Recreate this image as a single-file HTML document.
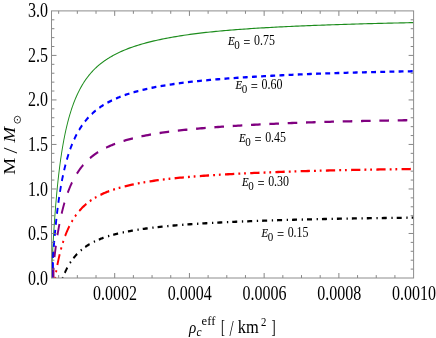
<!DOCTYPE html><html><head><meta charset="utf-8"><style>html,body{margin:0;padding:0;background:#fff;overflow:hidden}svg{display:block;will-change:transform}text{font-family:"Liberation Serif",serif;fill:#000}</style></head><body>
<svg width="436" height="338" viewBox="0 0 436 338">
<rect width="436" height="338" fill="#fff"/>
<defs><clipPath id="c"><rect x="51.5" y="10.9" width="362.1" height="267.1"/></clipPath></defs>
<g clip-path="url(#c)"><g transform="scale(1,1.21)" fill="none">
<path id="green" d="M51.23,232.231 L51.30,230.849 L51.40,228.943 L51.50,227.071 L51.60,225.230 L51.70,223.420 L51.80,221.640 L51.90,219.890 L52.00,218.168 L52.10,216.474 L52.20,214.808 L52.30,213.168 L52.40,211.555 L52.50,209.967 L52.60,208.403 L52.70,206.864 L52.80,205.349 L52.90,203.856 L53.00,202.387 L53.10,200.939 L53.20,199.513 L53.30,198.108 L53.40,196.724 L53.50,195.360 L53.60,194.016 L53.70,192.692 L53.80,191.386 L53.90,190.099 L54.00,188.830 L54.10,187.579 L54.20,186.345 L54.30,185.128 L54.40,183.928 L54.50,182.744 L54.60,181.577 L54.70,180.425 L54.80,179.288 L54.90,178.167 L55.00,177.060 L55.10,175.968 L55.20,174.890 L55.30,173.826 L55.40,172.775 L55.50,171.739 L55.60,170.715 L55.70,169.704 L55.80,168.706 L55.90,167.720 L56.00,166.747 L56.10,165.785 L56.20,164.835 L56.30,163.897 L56.40,162.970 L56.50,162.054 L56.60,161.150 L56.70,160.256 L56.80,159.372 L56.90,158.499 L57.00,157.636 L57.10,156.783 L57.20,155.940 L57.30,155.107 L57.40,154.283 L57.50,153.468 L57.60,152.663 L57.70,151.866 L57.80,151.079 L57.90,150.300 L58.00,149.530 L58.10,148.768 L58.20,148.015 L58.30,147.270 L58.40,146.533 L58.50,145.804 L58.60,145.082 L58.70,144.368 L58.80,143.662 L58.90,142.963 L59.00,142.272 L59.10,141.588 L59.20,140.911 L59.30,140.240 L59.40,139.577 L59.50,138.921 L59.60,138.271 L59.70,137.627 L59.80,136.990 L59.90,136.360 L60.00,135.736 L60.10,135.118 L60.20,134.506 L60.30,133.900 L60.40,133.300 L60.50,132.706 L60.60,132.117 L60.70,131.534 L60.80,130.957 L60.90,130.385 L61.00,129.819 L61.10,129.258 L61.20,128.702 L61.30,128.152 L61.40,127.607 L61.50,127.066 L61.60,126.531 L61.70,126.000 L61.80,125.475 L61.90,124.954 L62.00,124.438 L62.10,123.927 L62.20,123.420 L62.30,122.918 L62.40,122.420 L62.50,121.926 L62.60,121.437 L62.70,120.953 L62.80,120.472 L62.90,119.996 L63.00,119.524 L63.10,119.056 L63.20,118.591 L63.30,118.131 L63.40,117.675 L63.50,117.223 L63.60,116.774 L63.70,116.330 L63.80,115.889 L63.90,115.451 L64.00,115.018 L64.10,114.588 L64.20,114.161 L64.30,113.738 L64.40,113.319 L64.50,112.902 L64.60,112.490 L64.70,112.080 L64.80,111.674 L64.90,111.271 L65.00,110.872 L65.10,110.475 L65.20,110.082 L65.30,109.692 L65.40,109.304 L65.50,108.920 L65.60,108.539 L65.70,108.161 L65.80,107.786 L65.90,107.413 L66.00,107.044 L66.10,106.677 L66.20,106.313 L66.30,105.952 L66.40,105.594 L66.50,105.238 L66.60,104.885 L66.70,104.535 L66.80,104.187 L66.90,103.842 L67.00,103.500 L67.10,103.160 L67.20,102.822 L67.30,102.487 L67.40,102.154 L67.50,101.824 L67.60,101.496 L67.70,101.171 L67.80,100.848 L67.90,100.527 L68.00,100.208 L68.10,99.892 L68.20,99.578 L68.30,99.266 L68.40,98.957 L68.50,98.649 L68.60,98.344 L68.70,98.041 L68.80,97.740 L68.90,97.441 L69.00,97.144 L69.10,96.849 L69.20,96.557 L69.30,96.266 L69.40,95.977 L69.50,95.690 L69.60,95.405 L69.70,95.122 L69.80,94.841 L69.90,94.562 L70.00,94.284 L70.50,92.925 L71.00,91.609 L71.50,90.336 L72.00,89.102 L72.50,87.906 L73.00,86.746 L73.50,85.622 L74.00,84.530 L74.50,83.470 L75.00,82.440 L75.50,81.440 L76.00,80.468 L76.50,79.522 L77.00,78.602 L77.50,77.706 L78.00,76.834 L78.50,75.985 L79.00,75.158 L79.50,74.352 L80.00,73.566 L80.50,72.800 L81.00,72.053 L81.50,71.323 L82.00,70.612 L82.50,69.917 L83.00,69.238 L83.50,68.575 L84.00,67.928 L84.50,67.295 L85.00,66.677 L85.50,66.072 L86.00,65.481 L86.50,64.902 L87.00,64.336 L87.50,63.783 L88.00,63.241 L88.50,62.711 L89.00,62.191 L89.50,61.683 L90.00,61.185 L90.50,60.698 L91.00,60.220 L91.50,59.752 L92.00,59.293 L92.50,58.844 L93.00,58.404 L93.50,57.972 L94.00,57.549 L94.50,57.134 L95.00,56.727 L95.50,56.328 L96.00,55.937 L96.50,55.554 L97.00,55.177 L97.50,54.808 L98.00,54.445 L98.50,54.090 L99.00,53.741 L99.50,53.398 L100.00,53.061 L100.50,52.730 L101.00,52.405 L101.50,52.086 L102.00,51.772 L102.50,51.463 L103.00,51.160 L103.50,50.861 L104.00,50.567 L104.50,50.277 L105.00,49.992 L105.50,49.711 L106.00,49.434 L106.50,49.161 L107.00,48.892 L107.50,48.627 L108.00,48.366 L108.50,48.108 L109.00,47.853 L109.50,47.602 L110.00,47.354 L110.50,47.110 L111.00,46.868 L111.50,46.630 L112.00,46.395 L112.50,46.163 L113.00,45.933 L113.50,45.707 L114.00,45.483 L114.50,45.263 L115.00,45.045 L115.50,44.829 L116.00,44.617 L116.50,44.407 L117.00,44.199 L117.50,43.994 L118.00,43.792 L118.50,43.592 L119.00,43.395 L119.50,43.200 L120.00,43.007 L122.00,42.259 L124.00,41.546 L126.00,40.865 L128.00,40.215 L130.00,39.594 L132.00,38.999 L134.00,38.429 L136.00,37.883 L138.00,37.359 L140.00,36.855 L142.00,36.371 L144.00,35.906 L146.00,35.457 L148.00,35.024 L150.00,34.607 L152.00,34.203 L154.00,33.813 L156.00,33.436 L158.00,33.071 L160.00,32.717 L162.00,32.373 L164.00,32.040 L166.00,31.716 L168.00,31.401 L170.00,31.095 L172.00,30.797 L174.00,30.507 L176.00,30.225 L178.00,29.951 L180.00,29.684 L182.00,29.424 L184.00,29.171 L186.00,28.925 L188.00,28.686 L190.00,28.453 L192.00,28.227 L194.00,28.008 L196.00,27.794 L198.00,27.586 L200.00,27.384 L202.00,27.188 L204.00,26.997 L206.00,26.811 L208.00,26.631 L210.00,26.455 L212.00,26.284 L214.00,26.117 L216.00,25.954 L218.00,25.796 L220.00,25.641 L222.00,25.490 L224.00,25.343 L226.00,25.199 L228.00,25.059 L230.00,24.922 L232.00,24.787 L234.00,24.656 L236.00,24.528 L238.00,24.402 L240.00,24.279 L242.00,24.159 L244.00,24.041 L246.00,23.925 L248.00,23.812 L250.00,23.701 L252.00,23.592 L254.00,23.485 L256.00,23.380 L258.00,23.278 L260.00,23.177 L262.00,23.078 L264.00,22.980 L266.00,22.885 L268.00,22.791 L270.00,22.699 L272.00,22.609 L274.00,22.520 L276.00,22.433 L278.00,22.347 L280.00,22.262 L282.00,22.179 L284.00,22.098 L286.00,22.017 L288.00,21.939 L290.00,21.861 L292.00,21.784 L294.00,21.709 L296.00,21.635 L298.00,21.562 L300.00,21.491 L302.00,21.420 L304.00,21.351 L306.00,21.282 L308.00,21.215 L310.00,21.148 L312.00,21.083 L314.00,21.018 L316.00,20.955 L318.00,20.892 L320.00,20.831 L322.00,20.770 L324.00,20.710 L326.00,20.651 L328.00,20.593 L330.00,20.535 L332.00,20.479 L334.00,20.423 L336.00,20.368 L338.00,20.313 L340.00,20.260 L342.00,20.207 L344.00,20.155 L346.00,20.103 L348.00,20.052 L350.00,20.002 L352.00,19.952 L354.00,19.904 L356.00,19.855 L358.00,19.808 L360.00,19.761 L362.00,19.714 L364.00,19.668 L366.00,19.623 L368.00,19.578 L370.00,19.534 L372.00,19.491 L374.00,19.447 L376.00,19.405 L378.00,19.363 L380.00,19.321 L382.00,19.280 L384.00,19.239 L386.00,19.199 L388.00,19.160 L390.00,19.120 L392.00,19.082 L394.00,19.043 L396.00,19.005 L398.00,18.968 L400.00,18.931 L402.00,18.894 L404.00,18.858 L406.00,18.822 L408.00,18.787 L410.00,18.752 L412.00,18.717 L414.00,18.683" stroke="#1c8c1c" stroke-width="0.95"/>
<path id="blue" d="M52.75,232.231 L52.75,215.727 L52.80,215.123 L52.90,213.928 L53.00,212.750 L53.10,211.589 L53.20,210.445 L53.30,209.317 L53.40,208.205 L53.50,207.108 L53.60,206.026 L53.70,204.960 L53.80,203.908 L53.90,202.870 L54.00,201.846 L54.10,200.837 L54.20,199.840 L54.30,198.857 L54.40,197.886 L54.50,196.929 L54.60,195.983 L54.70,195.050 L54.80,194.129 L54.90,193.220 L55.00,192.322 L55.10,191.435 L55.20,190.560 L55.30,189.695 L55.40,188.841 L55.50,187.998 L55.60,187.165 L55.70,186.342 L55.80,185.529 L55.90,184.725 L56.00,183.932 L56.10,183.147 L56.20,182.372 L56.30,181.606 L56.40,180.849 L56.50,180.101 L56.60,179.361 L56.70,178.630 L56.80,177.907 L56.90,177.192 L57.00,176.485 L57.10,175.786 L57.20,175.095 L57.30,174.412 L57.40,173.736 L57.50,173.067 L57.60,172.406 L57.70,171.752 L57.80,171.105 L57.90,170.465 L58.00,169.832 L58.10,169.206 L58.20,168.586 L58.30,167.972 L58.40,167.365 L58.50,166.765 L58.60,166.170 L58.70,165.582 L58.80,165.000 L58.90,164.423 L59.00,163.853 L59.10,163.288 L59.20,162.729 L59.30,162.175 L59.40,161.627 L59.50,161.085 L59.60,160.547 L59.70,160.015 L59.80,159.489 L59.90,158.967 L60.00,158.450 L60.10,157.938 L60.20,157.432 L60.30,156.930 L60.40,156.432 L60.50,155.940 L60.60,155.452 L60.70,154.968 L60.80,154.490 L60.90,154.015 L61.00,153.545 L61.10,153.079 L61.20,152.618 L61.30,152.160 L61.40,151.707 L61.50,151.258 L61.60,150.813 L61.70,150.372 L61.80,149.935 L61.90,149.502 L62.00,149.072 L62.10,148.646 L62.20,148.224 L62.30,147.806 L62.40,147.391 L62.50,146.980 L62.60,146.573 L62.70,146.169 L62.80,145.768 L62.90,145.371 L63.00,144.977 L63.10,144.586 L63.20,144.199 L63.30,143.815 L63.40,143.434 L63.50,143.056 L63.60,142.681 L63.70,142.310 L63.80,141.941 L63.90,141.576 L64.00,141.213 L64.10,140.854 L64.20,140.497 L64.30,140.143 L64.40,139.792 L64.50,139.444 L64.60,139.098 L64.70,138.756 L64.80,138.416 L64.90,138.078 L65.00,137.743 L65.10,137.411 L65.20,137.082 L65.30,136.755 L65.40,136.430 L65.50,136.108 L65.60,135.788 L65.70,135.471 L65.80,135.156 L65.90,134.844 L66.00,134.534 L66.10,134.226 L66.20,133.921 L66.30,133.618 L66.40,133.317 L66.50,133.018 L66.60,132.721 L66.70,132.427 L66.80,132.135 L66.90,131.845 L67.00,131.557 L67.10,131.271 L67.20,130.987 L67.30,130.705 L67.40,130.426 L67.50,130.148 L67.60,129.872 L67.70,129.598 L67.80,129.326 L67.90,129.056 L68.00,128.788 L68.10,128.522 L68.20,128.257 L68.30,127.995 L68.40,127.734 L68.50,127.475 L68.60,127.218 L68.70,126.962 L68.80,126.709 L68.90,126.457 L69.00,126.206 L69.10,125.958 L69.20,125.711 L69.30,125.465 L69.40,125.222 L69.50,124.980 L69.60,124.739 L69.70,124.501 L69.80,124.263 L69.90,124.028 L70.00,123.793 L70.50,122.645 L71.00,121.534 L71.50,120.457 L72.00,119.413 L72.50,118.401 L73.00,117.419 L73.50,116.466 L74.00,115.540 L74.50,114.641 L75.00,113.768 L75.50,112.918 L76.00,112.093 L76.50,111.289 L77.00,110.507 L77.50,109.746 L78.00,109.004 L78.50,108.282 L79.00,107.578 L79.50,106.892 L80.00,106.223 L80.50,105.570 L81.00,104.933 L81.50,104.312 L82.00,103.705 L82.50,103.113 L83.00,102.534 L83.50,101.969 L84.00,101.416 L84.50,100.876 L85.00,100.348 L85.50,99.832 L86.00,99.327 L86.50,98.833 L87.00,98.350 L87.50,97.877 L88.00,97.413 L88.50,96.960 L89.00,96.516 L89.50,96.081 L90.00,95.655 L90.50,95.238 L91.00,94.829 L91.50,94.428 L92.00,94.035 L92.50,93.650 L93.00,93.272 L93.50,92.902 L94.00,92.539 L94.50,92.182 L95.00,91.833 L95.50,91.490 L96.00,91.153 L96.50,90.822 L97.00,90.498 L97.50,90.179 L98.00,89.867 L98.50,89.560 L99.00,89.258 L99.50,88.961 L100.00,88.670 L100.50,88.384 L101.00,88.103 L101.50,87.827 L102.00,87.555 L102.50,87.288 L103.00,87.025 L103.50,86.766 L104.00,86.512 L104.50,86.262 L105.00,86.016 L105.50,85.773 L106.00,85.535 L106.50,85.300 L107.00,85.069 L107.50,84.841 L108.00,84.616 L108.50,84.395 L109.00,84.177 L109.50,83.962 L110.00,83.751 L110.50,83.542 L111.00,83.336 L111.50,83.133 L112.00,82.933 L112.50,82.735 L113.00,82.540 L113.50,82.348 L114.00,82.158 L114.50,81.970 L115.00,81.785 L115.50,81.602 L116.00,81.422 L116.50,81.244 L117.00,81.068 L117.50,80.894 L118.00,80.722 L118.50,80.553 L119.00,80.385 L119.50,80.219 L120.00,80.056 L122.00,79.420 L124.00,78.812 L126.00,78.232 L128.00,77.677 L130.00,77.145 L132.00,76.636 L134.00,76.147 L136.00,75.679 L138.00,75.229 L140.00,74.797 L142.00,74.381 L144.00,73.982 L146.00,73.597 L148.00,73.227 L150.00,72.869 L152.00,72.525 L154.00,72.193 L156.00,71.872 L158.00,71.562 L160.00,71.262 L162.00,70.972 L164.00,70.692 L166.00,70.420 L168.00,70.157 L170.00,69.903 L172.00,69.655 L174.00,69.416 L176.00,69.183 L178.00,68.957 L180.00,68.737 L182.00,68.524 L184.00,68.317 L186.00,68.115 L188.00,67.918 L190.00,67.727 L192.00,67.541 L194.00,67.360 L196.00,67.183 L198.00,67.011 L200.00,66.843 L202.00,66.679 L204.00,66.519 L206.00,66.363 L208.00,66.210 L210.00,66.061 L212.00,65.915 L214.00,65.772 L216.00,65.633 L218.00,65.496 L220.00,65.363 L222.00,65.232 L224.00,65.104 L226.00,64.978 L228.00,64.855 L230.00,64.734 L232.00,64.616 L234.00,64.499 L236.00,64.385 L238.00,64.273 L240.00,64.163 L242.00,64.054 L244.00,63.948 L246.00,63.843 L248.00,63.740 L250.00,63.638 L252.00,63.538 L254.00,63.440 L256.00,63.342 L258.00,63.247 L260.00,63.152 L262.00,63.059 L264.00,62.967 L266.00,62.877 L268.00,62.787 L270.00,62.699 L272.00,62.612 L274.00,62.525 L276.00,62.440 L278.00,62.357 L280.00,62.274 L282.00,62.192 L284.00,62.111 L286.00,62.032 L288.00,61.953 L290.00,61.876 L292.00,61.800 L294.00,61.724 L296.00,61.650 L298.00,61.577 L300.00,61.505 L302.00,61.434 L304.00,61.365 L306.00,61.296 L308.00,61.228 L310.00,61.162 L312.00,61.097 L314.00,61.033 L316.00,60.970 L318.00,60.908 L320.00,60.847 L322.00,60.787 L324.00,60.728 L326.00,60.671 L328.00,60.614 L330.00,60.558 L332.00,60.504 L334.00,60.450 L336.00,60.397 L338.00,60.346 L340.00,60.295 L342.00,60.245 L344.00,60.195 L346.00,60.147 L348.00,60.100 L350.00,60.053 L352.00,60.007 L354.00,59.962 L356.00,59.917 L358.00,59.873 L360.00,59.830 L362.00,59.788 L364.00,59.746 L366.00,59.705 L368.00,59.664 L370.00,59.624 L372.00,59.585 L374.00,59.546 L376.00,59.508 L378.00,59.470 L380.00,59.433 L382.00,59.396 L384.00,59.360 L386.00,59.324 L388.00,59.289 L390.00,59.254 L392.00,59.219 L394.00,59.185 L396.00,59.152 L398.00,59.119 L400.00,59.086 L402.00,59.054 L404.00,59.022 L406.00,58.990 L408.00,58.959 L410.00,58.928 L412.00,58.898 L414.00,58.868" stroke="#0000ff" stroke-width="1.9" stroke-dasharray="4.89 4.281" stroke-dashoffset="8.39"/>
<path d="M52.75,216.53V231.40" stroke="#0000ff" stroke-width="1.7"/>
<path id="purple" d="M53.50,232.231 L53.50,219.859 L53.50,219.859 L53.60,219.067 L53.70,218.285 L53.80,217.512 L53.90,216.748 L54.00,215.993 L54.10,215.247 L54.20,214.510 L54.30,213.781 L54.40,213.061 L54.50,212.349 L54.60,211.645 L54.70,210.949 L54.80,210.260 L54.90,209.580 L55.00,208.907 L55.10,208.242 L55.20,207.583 L55.30,206.933 L55.40,206.289 L55.50,205.652 L55.60,205.022 L55.70,204.399 L55.80,203.783 L55.90,203.173 L56.00,202.569 L56.10,201.972 L56.20,201.381 L56.30,200.797 L56.40,200.218 L56.50,199.646 L56.60,199.079 L56.70,198.518 L56.80,197.963 L56.90,197.413 L57.00,196.869 L57.10,196.331 L57.20,195.797 L57.30,195.270 L57.40,194.747 L57.50,194.229 L57.60,193.717 L57.70,193.210 L57.80,192.707 L57.90,192.210 L58.00,191.717 L58.10,191.229 L58.20,190.745 L58.30,190.266 L58.40,189.792 L58.50,189.322 L58.60,188.857 L58.70,188.396 L58.80,187.939 L58.90,187.486 L59.00,187.038 L59.10,186.593 L59.20,186.153 L59.30,185.717 L59.40,185.285 L59.50,184.856 L59.60,184.432 L59.70,184.011 L59.80,183.594 L59.90,183.181 L60.00,182.771 L60.10,182.365 L60.20,181.962 L60.30,181.563 L60.40,181.168 L60.50,180.776 L60.60,180.387 L60.70,180.002 L60.80,179.619 L60.90,179.241 L61.00,178.865 L61.10,178.492 L61.20,178.123 L61.30,177.757 L61.40,177.394 L61.50,177.033 L61.60,176.676 L61.70,176.322 L61.80,175.971 L61.90,175.622 L62.00,175.277 L62.10,174.934 L62.20,174.594 L62.30,174.256 L62.40,173.922 L62.50,173.590 L62.60,173.261 L62.70,172.934 L62.80,172.610 L62.90,172.288 L63.00,171.969 L63.10,171.653 L63.20,171.339 L63.30,171.027 L63.40,170.718 L63.50,170.411 L63.60,170.107 L63.70,169.805 L63.80,169.505 L63.90,169.207 L64.00,168.912 L64.10,168.619 L64.20,168.328 L64.30,168.039 L64.40,167.753 L64.50,167.468 L64.60,167.186 L64.70,166.906 L64.80,166.628 L64.90,166.352 L65.00,166.077 L65.10,165.805 L65.20,165.535 L65.30,165.267 L65.40,165.001 L65.50,164.737 L65.60,164.474 L65.70,164.214 L65.80,163.955 L65.90,163.698 L66.00,163.443 L66.10,163.190 L66.20,162.938 L66.30,162.689 L66.40,162.441 L66.50,162.194 L66.60,161.950 L66.70,161.707 L66.80,161.466 L66.90,161.226 L67.00,160.988 L67.10,160.752 L67.20,160.517 L67.30,160.284 L67.40,160.053 L67.50,159.823 L67.60,159.594 L67.70,159.368 L67.80,159.142 L67.90,158.918 L68.00,158.696 L68.10,158.475 L68.20,158.256 L68.30,158.038 L68.40,157.821 L68.50,157.606 L68.60,157.392 L68.70,157.180 L68.80,156.969 L68.90,156.759 L69.00,156.551 L69.10,156.344 L69.20,156.138 L69.30,155.934 L69.40,155.731 L69.50,155.529 L69.60,155.329 L69.70,155.129 L69.80,154.931 L69.90,154.735 L70.00,154.539 L70.50,153.580 L71.00,152.649 L71.50,151.747 L72.00,150.871 L72.50,150.020 L73.00,149.194 L73.50,148.391 L74.00,147.611 L74.50,146.852 L75.00,146.114 L75.50,145.396 L76.00,144.697 L76.50,144.016 L77.00,143.353 L77.50,142.707 L78.00,142.078 L78.50,141.464 L79.00,140.865 L79.50,140.281 L80.00,139.712 L80.50,139.156 L81.00,138.613 L81.50,138.083 L82.00,137.565 L82.50,137.060 L83.00,136.566 L83.50,136.083 L84.00,135.611 L84.50,135.149 L85.00,134.698 L85.50,134.257 L86.00,133.825 L86.50,133.403 L87.00,132.989 L87.50,132.584 L88.00,132.188 L88.50,131.801 L89.00,131.421 L89.50,131.049 L90.00,130.685 L90.50,130.328 L91.00,129.978 L91.50,129.635 L92.00,129.300 L92.50,128.971 L93.00,128.648 L93.50,128.332 L94.00,128.022 L94.50,127.718 L95.00,127.420 L95.50,127.127 L96.00,126.840 L96.50,126.559 L97.00,126.283 L97.50,126.012 L98.00,125.746 L98.50,125.485 L99.00,125.229 L99.50,124.977 L100.00,124.730 L100.50,124.487 L101.00,124.249 L101.50,124.015 L102.00,123.785 L102.50,123.559 L103.00,123.337 L103.50,123.118 L104.00,122.903 L104.50,122.692 L105.00,122.484 L105.50,122.280 L106.00,122.079 L106.50,121.880 L107.00,121.685 L107.50,121.493 L108.00,121.304 L108.50,121.118 L109.00,120.934 L109.50,120.753 L110.00,120.574 L110.50,120.398 L111.00,120.225 L111.50,120.054 L112.00,119.885 L112.50,119.718 L113.00,119.553 L113.50,119.391 L114.00,119.230 L114.50,119.072 L115.00,118.916 L115.50,118.761 L116.00,118.608 L116.50,118.458 L117.00,118.308 L117.50,118.161 L118.00,118.016 L118.50,117.872 L119.00,117.729 L119.50,117.589 L120.00,117.450 L122.00,116.909 L124.00,116.391 L126.00,115.896 L128.00,115.422 L130.00,114.967 L132.00,114.530 L134.00,114.112 L136.00,113.710 L138.00,113.324 L140.00,112.953 L142.00,112.597 L144.00,112.254 L146.00,111.923 L148.00,111.605 L150.00,111.299 L152.00,111.003 L154.00,110.718 L156.00,110.443 L158.00,110.177 L160.00,109.920 L162.00,109.671 L164.00,109.431 L166.00,109.198 L168.00,108.972 L170.00,108.753 L172.00,108.541 L174.00,108.336 L176.00,108.136 L178.00,107.942 L180.00,107.753 L182.00,107.570 L184.00,107.392 L186.00,107.218 L188.00,107.049 L190.00,106.885 L192.00,106.725 L194.00,106.568 L196.00,106.416 L198.00,106.267 L200.00,106.121 L202.00,105.979 L204.00,105.840 L206.00,105.705 L208.00,105.572 L210.00,105.442 L212.00,105.315 L214.00,105.190 L216.00,105.068 L218.00,104.948 L220.00,104.830 L222.00,104.715 L224.00,104.602 L226.00,104.491 L228.00,104.381 L230.00,104.274 L232.00,104.168 L234.00,104.065 L236.00,103.963 L238.00,103.862 L240.00,103.763 L242.00,103.666 L244.00,103.570 L246.00,103.476 L248.00,103.383 L250.00,103.291 L252.00,103.201 L254.00,103.112 L256.00,103.025 L258.00,102.939 L260.00,102.854 L262.00,102.770 L264.00,102.688 L266.00,102.607 L268.00,102.527 L270.00,102.449 L272.00,102.372 L274.00,102.296 L276.00,102.221 L278.00,102.148 L280.00,102.075 L282.00,102.004 L284.00,101.935 L286.00,101.866 L288.00,101.799 L290.00,101.732 L292.00,101.668 L294.00,101.604 L296.00,101.541 L298.00,101.480 L300.00,101.419 L302.00,101.360 L304.00,101.302 L306.00,101.245 L308.00,101.189 L310.00,101.135 L312.00,101.081 L314.00,101.028 L316.00,100.976 L318.00,100.925 L320.00,100.876 L322.00,100.827 L324.00,100.779 L326.00,100.732 L328.00,100.685 L330.00,100.640 L332.00,100.595 L334.00,100.552 L336.00,100.509 L338.00,100.466 L340.00,100.425 L342.00,100.384 L344.00,100.344 L346.00,100.305 L348.00,100.266 L350.00,100.228 L352.00,100.191 L354.00,100.154 L356.00,100.117 L358.00,100.082 L360.00,100.047 L362.00,100.012 L364.00,99.978 L366.00,99.945 L368.00,99.912 L370.00,99.879 L372.00,99.847 L374.00,99.816 L376.00,99.785 L378.00,99.754 L380.00,99.724 L382.00,99.694 L384.00,99.665 L386.00,99.636 L388.00,99.607 L390.00,99.579 L392.00,99.551 L394.00,99.524 L396.00,99.496 L398.00,99.470 L400.00,99.443 L402.00,99.417 L404.00,99.391 L406.00,99.366 L408.00,99.341 L410.00,99.316 L412.00,99.292 L414.00,99.267" stroke="#800080" stroke-width="1.9" stroke-dasharray="9.6 8.74" stroke-dashoffset="16.93"/>
<path id="red" d="M54.69,232.231 L54.70,232.180 L54.80,231.616 L54.90,231.058 L55.00,230.507 L55.10,229.962 L55.20,229.423 L55.30,228.890 L55.40,228.362 L55.50,227.841 L55.60,227.325 L55.70,226.814 L55.80,226.309 L55.90,225.810 L56.00,225.315 L56.10,224.826 L56.20,224.342 L56.30,223.863 L56.40,223.389 L56.50,222.920 L56.60,222.456 L56.70,221.996 L56.80,221.541 L56.90,221.091 L57.00,220.645 L57.10,220.204 L57.20,219.767 L57.30,219.335 L57.40,218.906 L57.50,218.482 L57.60,218.062 L57.70,217.647 L57.80,217.235 L57.90,216.827 L58.00,216.423 L58.10,216.023 L58.20,215.627 L58.30,215.234 L58.40,214.846 L58.50,214.461 L58.60,214.079 L58.70,213.701 L58.80,213.327 L58.90,212.956 L59.00,212.588 L59.10,212.224 L59.20,211.863 L59.30,211.505 L59.40,211.151 L59.50,210.800 L59.60,210.452 L59.70,210.107 L59.80,209.765 L59.90,209.426 L60.00,209.090 L60.10,208.757 L60.20,208.427 L60.30,208.100 L60.40,207.775 L60.50,207.454 L60.60,207.135 L60.70,206.819 L60.80,206.505 L60.90,206.195 L61.00,205.886 L61.10,205.581 L61.20,205.278 L61.30,204.978 L61.40,204.680 L61.50,204.384 L61.60,204.091 L61.70,203.800 L61.80,203.512 L61.90,203.226 L62.00,202.943 L62.10,202.661 L62.20,202.382 L62.30,202.105 L62.40,201.831 L62.50,201.558 L62.60,201.288 L62.70,201.020 L62.80,200.754 L62.90,200.490 L63.00,200.228 L63.10,199.969 L63.20,199.711 L63.30,199.455 L63.40,199.201 L63.50,198.949 L63.60,198.699 L63.70,198.451 L63.80,198.205 L63.90,197.961 L64.00,197.718 L64.10,197.477 L64.20,197.239 L64.30,197.001 L64.40,196.766 L64.50,196.533 L64.60,196.301 L64.70,196.070 L64.80,195.842 L64.90,195.615 L65.00,195.390 L65.10,195.166 L65.20,194.945 L65.30,194.724 L65.40,194.505 L65.50,194.288 L65.60,194.073 L65.70,193.859 L65.80,193.646 L65.90,193.435 L66.00,193.225 L66.10,193.017 L66.20,192.810 L66.30,192.605 L66.40,192.401 L66.50,192.199 L66.60,191.998 L66.70,191.798 L66.80,191.600 L66.90,191.403 L67.00,191.207 L67.10,191.013 L67.20,190.820 L67.30,190.628 L67.40,190.438 L67.50,190.249 L67.60,190.061 L67.70,189.875 L67.80,189.689 L67.90,189.505 L68.00,189.322 L68.10,189.140 L68.20,188.960 L68.30,188.781 L68.40,188.602 L68.50,188.425 L68.60,188.249 L68.70,188.075 L68.80,187.901 L68.90,187.729 L69.00,187.557 L69.10,187.387 L69.20,187.218 L69.30,187.049 L69.40,186.882 L69.50,186.716 L69.60,186.551 L69.70,186.387 L69.80,186.224 L69.90,186.062 L70.00,185.901 L70.50,185.111 L71.00,184.345 L71.50,183.601 L72.00,182.879 L72.50,182.178 L73.00,181.497 L73.50,180.835 L74.00,180.192 L74.50,179.566 L75.00,178.957 L75.50,178.364 L76.00,177.787 L76.50,177.225 L77.00,176.677 L77.50,176.143 L78.00,175.623 L78.50,175.116 L79.00,174.621 L79.50,174.138 L80.00,173.667 L80.50,173.206 L81.00,172.757 L81.50,172.319 L82.00,171.890 L82.50,171.471 L83.00,171.062 L83.50,170.662 L84.00,170.270 L84.50,169.888 L85.00,169.513 L85.50,169.147 L86.00,168.789 L86.50,168.438 L87.00,168.095 L87.50,167.759 L88.00,167.430 L88.50,167.107 L89.00,166.792 L89.50,166.482 L90.00,166.179 L90.50,165.882 L91.00,165.591 L91.50,165.306 L92.00,165.026 L92.50,164.752 L93.00,164.483 L93.50,164.219 L94.00,163.960 L94.50,163.707 L95.00,163.458 L95.50,163.213 L96.00,162.974 L96.50,162.739 L97.00,162.508 L97.50,162.281 L98.00,162.058 L98.50,161.840 L99.00,161.625 L99.50,161.414 L100.00,161.207 L100.50,161.004 L101.00,160.804 L101.50,160.607 L102.00,160.414 L102.50,160.224 L103.00,160.038 L103.50,159.854 L104.00,159.673 L104.50,159.496 L105.00,159.321 L105.50,159.149 L106.00,158.979 L106.50,158.813 L107.00,158.648 L107.50,158.486 L108.00,158.327 L108.50,158.170 L109.00,158.015 L109.50,157.862 L110.00,157.712 L110.50,157.563 L111.00,157.417 L111.50,157.272 L112.00,157.130 L112.50,156.989 L113.00,156.850 L113.50,156.713 L114.00,156.578 L114.50,156.444 L115.00,156.312 L115.50,156.182 L116.00,156.053 L116.50,155.926 L117.00,155.800 L117.50,155.675 L118.00,155.553 L118.50,155.431 L119.00,155.311 L119.50,155.192 L120.00,155.075 L122.00,154.619 L124.00,154.182 L126.00,153.765 L128.00,153.364 L130.00,152.980 L132.00,152.612 L134.00,152.259 L136.00,151.920 L138.00,151.594 L140.00,151.281 L142.00,150.980 L144.00,150.690 L146.00,150.411 L148.00,150.142 L150.00,149.883 L152.00,149.633 L154.00,149.392 L156.00,149.159 L158.00,148.933 L160.00,148.716 L162.00,148.505 L164.00,148.301 L166.00,148.104 L168.00,147.912 L170.00,147.727 L172.00,147.547 L174.00,147.372 L176.00,147.203 L178.00,147.038 L180.00,146.878 L182.00,146.723 L184.00,146.571 L186.00,146.424 L188.00,146.281 L190.00,146.141 L192.00,146.005 L194.00,145.872 L196.00,145.743 L198.00,145.617 L200.00,145.493 L202.00,145.373 L204.00,145.255 L206.00,145.140 L208.00,145.027 L210.00,144.917 L212.00,144.810 L214.00,144.704 L216.00,144.601 L218.00,144.499 L220.00,144.400 L222.00,144.303 L224.00,144.207 L226.00,144.113 L228.00,144.021 L230.00,143.931 L232.00,143.842 L234.00,143.754 L236.00,143.668 L238.00,143.584 L240.00,143.501 L242.00,143.419 L244.00,143.338 L246.00,143.259 L248.00,143.181 L250.00,143.104 L252.00,143.028 L254.00,142.954 L256.00,142.880 L258.00,142.808 L260.00,142.737 L262.00,142.667 L264.00,142.597 L266.00,142.529 L268.00,142.462 L270.00,142.396 L272.00,142.331 L274.00,142.267 L276.00,142.204 L278.00,142.142 L280.00,142.080 L282.00,142.020 L284.00,141.961 L286.00,141.903 L288.00,141.846 L290.00,141.790 L292.00,141.734 L294.00,141.680 L296.00,141.627 L298.00,141.574 L300.00,141.523 L302.00,141.472 L304.00,141.422 L306.00,141.373 L308.00,141.325 L310.00,141.278 L312.00,141.232 L314.00,141.187 L316.00,141.142 L318.00,141.098 L320.00,141.055 L322.00,141.013 L324.00,140.972 L326.00,140.931 L328.00,140.891 L330.00,140.852 L332.00,140.813 L334.00,140.775 L336.00,140.738 L338.00,140.701 L340.00,140.665 L342.00,140.630 L344.00,140.595 L346.00,140.561 L348.00,140.527 L350.00,140.494 L352.00,140.462 L354.00,140.430 L356.00,140.398 L358.00,140.367 L360.00,140.336 L362.00,140.306 L364.00,140.277 L366.00,140.247 L368.00,140.219 L370.00,140.190 L372.00,140.162 L374.00,140.135 L376.00,140.108 L378.00,140.081 L380.00,140.054 L382.00,140.028 L384.00,140.003 L386.00,139.977 L388.00,139.952 L390.00,139.928 L392.00,139.903 L394.00,139.879 L396.00,139.856 L398.00,139.832 L400.00,139.809 L402.00,139.786 L404.00,139.764 L406.00,139.741 L408.00,139.719 L410.00,139.698 L412.00,139.676 L414.00,139.655" stroke="#ff0000" stroke-width="1.9" stroke-dasharray="9.27 4.09 1.9 3.84 1.8 4.33" stroke-dashoffset="11.80"/>
<path id="black" d="M61.60,232.231 L61.70,232.003 L61.80,231.766 L61.90,231.532 L62.00,231.299 L62.10,231.068 L62.20,230.839 L62.30,230.612 L62.40,230.387 L62.50,230.163 L62.60,229.942 L62.70,229.722 L62.80,229.504 L62.90,229.288 L63.00,229.074 L63.10,228.861 L63.20,228.650 L63.30,228.441 L63.40,228.234 L63.50,228.028 L63.60,227.823 L63.70,227.621 L63.80,227.420 L63.90,227.220 L64.00,227.022 L64.10,226.826 L64.20,226.631 L64.30,226.437 L64.40,226.246 L64.50,226.055 L64.60,225.866 L64.70,225.679 L64.80,225.492 L64.90,225.308 L65.00,225.124 L65.10,224.942 L65.20,224.762 L65.30,224.582 L65.40,224.404 L65.50,224.228 L65.60,224.052 L65.70,223.878 L65.80,223.705 L65.90,223.534 L66.00,223.363 L66.10,223.194 L66.20,223.026 L66.30,222.860 L66.40,222.694 L66.50,222.530 L66.60,222.366 L66.70,222.204 L66.80,222.044 L66.90,221.884 L67.00,221.725 L67.10,221.568 L67.20,221.411 L67.30,221.256 L67.40,221.101 L67.50,220.948 L67.60,220.796 L67.70,220.645 L67.80,220.495 L67.90,220.345 L68.00,220.197 L68.10,220.050 L68.20,219.904 L68.30,219.759 L68.40,219.615 L68.50,219.471 L68.60,219.329 L68.70,219.188 L68.80,219.047 L68.90,218.908 L69.00,218.769 L69.10,218.631 L69.20,218.495 L69.30,218.359 L69.40,218.224 L69.50,218.089 L69.60,217.956 L69.70,217.824 L69.80,217.692 L69.90,217.561 L70.00,217.431 L70.50,216.793 L71.00,216.175 L71.50,215.576 L72.00,214.994 L72.50,214.429 L73.00,213.881 L73.50,213.348 L74.00,212.830 L74.50,212.327 L75.00,211.837 L75.50,211.361 L76.00,210.897 L76.50,210.446 L77.00,210.006 L77.50,209.577 L78.00,209.160 L78.50,208.752 L79.00,208.355 L79.50,207.968 L80.00,207.590 L80.50,207.221 L81.00,206.861 L81.50,206.509 L82.00,206.165 L82.50,205.830 L83.00,205.501 L83.50,205.181 L84.00,204.867 L84.50,204.560 L85.00,204.260 L85.50,203.967 L86.00,203.680 L86.50,203.399 L87.00,203.123 L87.50,202.854 L88.00,202.590 L88.50,202.332 L89.00,202.079 L89.50,201.831 L90.00,201.588 L90.50,201.350 L91.00,201.116 L91.50,200.887 L92.00,200.663 L92.50,200.443 L93.00,200.227 L93.50,200.016 L94.00,199.808 L94.50,199.604 L95.00,199.405 L95.50,199.208 L96.00,199.016 L96.50,198.827 L97.00,198.641 L97.50,198.459 L98.00,198.281 L98.50,198.105 L99.00,197.932 L99.50,197.763 L100.00,197.596 L100.50,197.433 L101.00,197.272 L101.50,197.114 L102.00,196.958 L102.50,196.806 L103.00,196.655 L103.50,196.507 L104.00,196.362 L104.50,196.219 L105.00,196.078 L105.50,195.939 L106.00,195.803 L106.50,195.668 L107.00,195.536 L107.50,195.405 L108.00,195.276 L108.50,195.150 L109.00,195.025 L109.50,194.901 L110.00,194.780 L110.50,194.660 L111.00,194.542 L111.50,194.425 L112.00,194.310 L112.50,194.196 L113.00,194.084 L113.50,193.973 L114.00,193.864 L114.50,193.756 L115.00,193.649 L115.50,193.544 L116.00,193.439 L116.50,193.336 L117.00,193.235 L117.50,193.134 L118.00,193.035 L118.50,192.936 L119.00,192.839 L119.50,192.743 L120.00,192.648 L122.00,192.278 L124.00,191.925 L126.00,191.586 L128.00,191.261 L130.00,190.949 L132.00,190.650 L134.00,190.363 L136.00,190.087 L138.00,189.822 L140.00,189.567 L142.00,189.321 L144.00,189.084 L146.00,188.856 L148.00,188.637 L150.00,188.425 L152.00,188.220 L154.00,188.022 L156.00,187.831 L158.00,187.646 L160.00,187.468 L162.00,187.295 L164.00,187.127 L166.00,186.964 L168.00,186.807 L170.00,186.654 L172.00,186.506 L174.00,186.362 L176.00,186.222 L178.00,186.086 L180.00,185.954 L182.00,185.825 L184.00,185.700 L186.00,185.578 L188.00,185.459 L190.00,185.343 L192.00,185.230 L194.00,185.120 L196.00,185.012 L198.00,184.907 L200.00,184.804 L202.00,184.704 L204.00,184.606 L206.00,184.510 L208.00,184.416 L210.00,184.325 L212.00,184.235 L214.00,184.147 L216.00,184.060 L218.00,183.976 L220.00,183.893 L222.00,183.811 L224.00,183.731 L226.00,183.653 L228.00,183.576 L230.00,183.500 L232.00,183.426 L234.00,183.353 L236.00,183.281 L238.00,183.210 L240.00,183.140 L242.00,183.072 L244.00,183.004 L246.00,182.938 L248.00,182.872 L250.00,182.808 L252.00,182.744 L254.00,182.682 L256.00,182.620 L258.00,182.559 L260.00,182.499 L262.00,182.440 L264.00,182.382 L266.00,182.325 L268.00,182.269 L270.00,182.213 L272.00,182.159 L274.00,182.105 L276.00,182.052 L278.00,181.999 L280.00,181.948 L282.00,181.897 L284.00,181.848 L286.00,181.799 L288.00,181.750 L290.00,181.703 L292.00,181.656 L294.00,181.610 L296.00,181.565 L298.00,181.521 L300.00,181.477 L302.00,181.435 L304.00,181.392 L306.00,181.351 L308.00,181.310 L310.00,181.270 L312.00,181.231 L314.00,181.193 L316.00,181.155 L318.00,181.117 L320.00,181.081 L322.00,181.045 L324.00,181.010 L326.00,180.975 L328.00,180.941 L330.00,180.907 L332.00,180.874 L334.00,180.842 L336.00,180.810 L338.00,180.778 L340.00,180.747 L342.00,180.717 L344.00,180.687 L346.00,180.658 L348.00,180.629 L350.00,180.600 L352.00,180.572 L354.00,180.544 L356.00,180.517 L358.00,180.490 L360.00,180.464 L362.00,180.438 L364.00,180.412 L366.00,180.387 L368.00,180.362 L370.00,180.338 L372.00,180.313 L374.00,180.289 L376.00,180.266 L378.00,180.243 L380.00,180.220 L382.00,180.197 L384.00,180.175 L386.00,180.152 L388.00,180.131 L390.00,180.109 L392.00,180.088 L394.00,180.067 L396.00,180.046 L398.00,180.026 L400.00,180.005 L402.00,179.985 L404.00,179.966 L406.00,179.946 L408.00,179.927 L410.00,179.908 L412.00,179.889 L414.00,179.870" stroke="#000000" stroke-width="1.9" stroke-dasharray="5 4.63 1.3 4.025" stroke-dashoffset="7.48"/>
</g></g>
<path d="M58.66,278.0v-2.9M58.66,10.9v2.9M77.34,278.0v-2.9M77.34,10.9v2.9M96.02,278.0v-2.9M96.02,10.9v2.9M114.70,278.0v-5.0M114.70,10.9v5.0M133.38,278.0v-2.9M133.38,10.9v2.9M152.06,278.0v-2.9M152.06,10.9v2.9M170.74,278.0v-2.9M170.74,10.9v2.9M189.43,278.0v-5.0M189.43,10.9v5.0M208.11,278.0v-2.9M208.11,10.9v2.9M226.79,278.0v-2.9M226.79,10.9v2.9M245.47,278.0v-2.9M245.47,10.9v2.9M264.15,278.0v-5.0M264.15,10.9v5.0M282.83,278.0v-2.9M282.83,10.9v2.9M301.51,278.0v-2.9M301.51,10.9v2.9M320.19,278.0v-2.9M320.19,10.9v2.9M338.88,278.0v-5.0M338.88,10.9v5.0M357.56,278.0v-2.9M357.56,10.9v2.9M376.24,278.0v-2.9M376.24,10.9v2.9M394.92,278.0v-2.9M394.92,10.9v2.9M51.5,269.10h2.9M413.6,269.10h-2.9M51.5,260.19h2.9M413.6,260.19h-2.9M51.5,251.29h2.9M413.6,251.29h-2.9M51.5,242.39h2.9M413.6,242.39h-2.9M51.5,233.48h5.0M413.6,233.48h-5.0M51.5,224.58h2.9M413.6,224.58h-2.9M51.5,215.68h2.9M413.6,215.68h-2.9M51.5,206.77h2.9M413.6,206.77h-2.9M51.5,197.87h2.9M413.6,197.87h-2.9M51.5,188.97h5.0M413.6,188.97h-5.0M51.5,180.06h2.9M413.6,180.06h-2.9M51.5,171.16h2.9M413.6,171.16h-2.9M51.5,162.26h2.9M413.6,162.26h-2.9M51.5,153.35h2.9M413.6,153.35h-2.9M51.5,144.45h5.0M413.6,144.45h-5.0M51.5,135.55h2.9M413.6,135.55h-2.9M51.5,126.64h2.9M413.6,126.64h-2.9M51.5,117.74h2.9M413.6,117.74h-2.9M51.5,108.84h2.9M413.6,108.84h-2.9M51.5,99.93h5.0M413.6,99.93h-5.0M51.5,91.03h2.9M413.6,91.03h-2.9M51.5,82.13h2.9M413.6,82.13h-2.9M51.5,73.22h2.9M413.6,73.22h-2.9M51.5,64.32h2.9M413.6,64.32h-2.9M51.5,55.42h5.0M413.6,55.42h-5.0M51.5,46.51h2.9M413.6,46.51h-2.9M51.5,37.61h2.9M413.6,37.61h-2.9M51.5,28.71h2.9M413.6,28.71h-2.9M51.5,19.80h2.9M413.6,19.80h-2.9" stroke="#787878" stroke-width="0.9" fill="none"/>
<rect x="51.5" y="10.9" width="362.1" height="267.1" stroke="#8c8c8c" stroke-width="1" fill="none"/>
<text transform="translate(47.9,284.55) scale(0.8,1)" font-size="20" text-anchor="end">0.0</text>
<text transform="translate(47.9,240.03) scale(0.8,1)" font-size="20" text-anchor="end">0.5</text>
<text transform="translate(47.9,195.52) scale(0.8,1)" font-size="20" text-anchor="end">1.0</text>
<text transform="translate(47.9,151.00) scale(0.8,1)" font-size="20" text-anchor="end">1.5</text>
<text transform="translate(47.9,106.48) scale(0.8,1)" font-size="20" text-anchor="end">2.0</text>
<text transform="translate(47.9,61.97) scale(0.8,1)" font-size="20" text-anchor="end">2.5</text>
<text transform="translate(47.9,17.45) scale(0.8,1)" font-size="20" text-anchor="end">3.0</text>
<text transform="translate(115.00,299.9) scale(0.8,1)" font-size="20" text-anchor="middle">0.0002</text>
<text transform="translate(189.73,299.9) scale(0.8,1)" font-size="20" text-anchor="middle">0.0004</text>
<text transform="translate(264.45,299.9) scale(0.8,1)" font-size="20" text-anchor="middle">0.0006</text>
<text transform="translate(339.18,299.9) scale(0.8,1)" font-size="20" text-anchor="middle">0.0008</text>
<text transform="translate(413.90,299.9) scale(0.8,1)" font-size="20" text-anchor="middle">0.0010</text>
<text transform="translate(189.08,332.93) scale(0.8767,1)" font-size="17.29" font-style="italic">ρ</text>
<text transform="translate(196.46,335.99) scale(0.9974,1)" font-size="11.46" font-style="italic">c</text>
<text transform="translate(201.59,325.48) scale(1.0756,1)" font-size="11.75">eff</text>
<text transform="translate(221.02,333.26) scale(0.6466,1)" font-size="18.07">[</text>
<text transform="translate(229.50,335.67) scale(0.6513,1)" font-size="22.69">/</text>
<text transform="translate(237.87,333.40) scale(0.8580,1)" font-size="19.14">km</text>
<text transform="translate(261.12,325.70) scale(0.8478,1)" font-size="12.68">2</text>
<text transform="translate(271.46,333.26) scale(0.6886,1)" font-size="18.07">]</text>
<text transform="translate(14.80,174.77) rotate(-90) scale(1.1727,1)" font-size="16.34">M</text>
<text transform="translate(16.71,153.60) rotate(-90) scale(1.1683,1)" font-size="18.51">/</text>
<text transform="translate(14.80,142.57) rotate(-90) scale(1.1486,1)" font-size="16.34" font-style="italic">M</text>
<ellipse cx="17.4" cy="119.7" rx="3.15" ry="3.5" fill="none" stroke="#000" stroke-width="0.75"/><ellipse cx="17.4" cy="119.7" rx="0.65" ry="0.75" fill="#000"/>
<text transform="translate(227.94,44.75) scale(0.8133,1)" font-size="13.36" font-style="italic" stroke="#000" stroke-width="0.15">E</text>
<text transform="translate(234.19,48.87) scale(0.8680,1)" font-size="12.74">0</text>
<text transform="translate(243.61,46.92) scale(0.7992,1)" font-size="14.80" stroke="#000" stroke-width="0.25">=</text>
<text transform="translate(254.05,45.09) scale(0.8651,1)" font-size="13.82">0.75</text>
<text transform="translate(235.44,88.65) scale(0.8133,1)" font-size="13.36" font-style="italic" stroke="#000" stroke-width="0.15">E</text>
<text transform="translate(241.69,92.77) scale(0.8680,1)" font-size="12.74">0</text>
<text transform="translate(251.11,90.82) scale(0.7992,1)" font-size="14.80" stroke="#000" stroke-width="0.25">=</text>
<text transform="translate(261.55,88.99) scale(0.8638,1)" font-size="13.82">0.60</text>
<text transform="translate(239.04,141.65) scale(0.8133,1)" font-size="13.36" font-style="italic" stroke="#000" stroke-width="0.15">E</text>
<text transform="translate(245.29,145.77) scale(0.8680,1)" font-size="12.74">0</text>
<text transform="translate(254.71,143.82) scale(0.7992,1)" font-size="14.80" stroke="#000" stroke-width="0.25">=</text>
<text transform="translate(265.15,141.99) scale(0.8651,1)" font-size="13.82">0.45</text>
<text transform="translate(242.04,185.65) scale(0.8133,1)" font-size="13.36" font-style="italic" stroke="#000" stroke-width="0.15">E</text>
<text transform="translate(248.29,189.77) scale(0.8680,1)" font-size="12.74">0</text>
<text transform="translate(257.71,187.82) scale(0.7992,1)" font-size="14.80" stroke="#000" stroke-width="0.25">=</text>
<text transform="translate(268.15,185.99) scale(0.8638,1)" font-size="13.82">0.30</text>
<text transform="translate(261.54,236.65) scale(0.8133,1)" font-size="13.36" font-style="italic" stroke="#000" stroke-width="0.15">E</text>
<text transform="translate(267.79,240.77) scale(0.8680,1)" font-size="12.74">0</text>
<text transform="translate(277.21,238.82) scale(0.7992,1)" font-size="14.80" stroke="#000" stroke-width="0.25">=</text>
<text transform="translate(287.65,236.99) scale(0.8651,1)" font-size="13.82">0.15</text>
</svg></body></html>
